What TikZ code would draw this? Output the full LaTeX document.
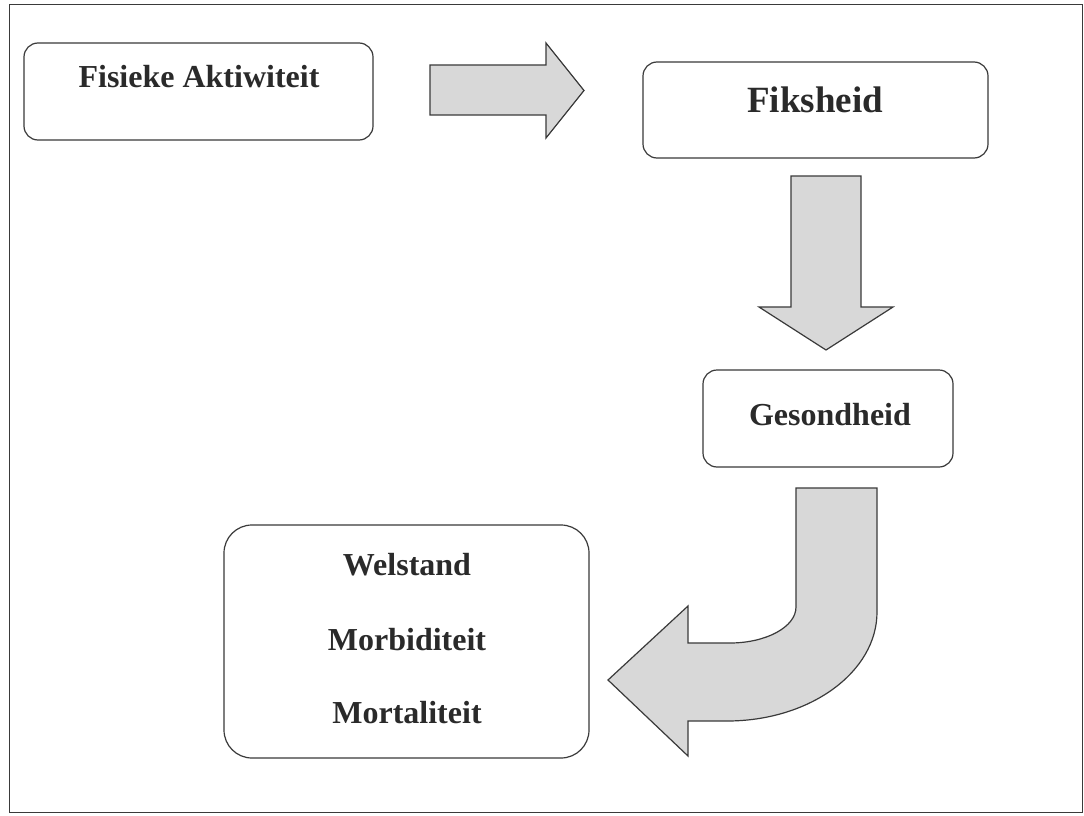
\documentclass[tikz,border=0pt]{standalone}
\usepackage{fontspec}
\setmainfont{Liberation Serif}
\definecolor{linegray}{HTML}{3A3A3A}
\definecolor{textgray}{HTML}{2A2A2A}
\definecolor{arrowgray}{HTML}{D8D8D8}
\begin{document}
\begin{tikzpicture}[x=1pt,y=-1pt,
  box/.style={draw=linegray, line width=1.2pt, rounded corners=14pt, fill=white, inner sep=0pt, outer sep=0pt},
  lbl/.style={font=\bfseries\fontsize{32}{38}\selectfont, text=textgray, anchor=base, inner sep=0pt},
  blockarrow/.style={draw=linegray, line width=1.2pt, fill=arrowgray, line join=miter}]
\useasboundingbox[fill=white] (0,0) rectangle (1084,816);
% outer frame
\draw[draw=linegray, line width=1pt] (9,5) rectangle (1082,812);
% boxes
\node[box, minimum width=349pt, minimum height=97pt] (fa) at (198.5,91.5) {};
\node[box, minimum width=345pt, minimum height=96pt] (fk) at (815.5,110) {};
\node[box, minimum width=250pt, minimum height=97pt] (gs) at (828,418.5) {};
\node[box, rounded corners=28pt, minimum width=365pt, minimum height=233pt] (wm) at (406.5,641.5) {};
% labels
\node[lbl] (faT) at (199,87) {Fisieke Aktiwiteit};
\node[lbl, font=\bfseries\fontsize{37}{44}\selectfont] (fkT) at (815,112) {Fiksheid};
\node[lbl] (gsT) at (830,425) {Gesondheid};
\node[lbl] (w1) at (407,575) {Welstand};
\node[lbl] (w2) at (407,650) {Morbiditeit};
\node[lbl] (w3) at (407,723) {Mortaliteit};
% block arrows
\draw[blockarrow] (430,65) -- (546,65) -- (546,43) -- (584,90.5) -- (546,138) -- (546,115) -- (430,115) -- cycle;
\draw[blockarrow] (791,176) -- (861,176) -- (861,307) -- (893,307) -- (826,350) -- (759,307) -- (791,307) -- cycle;
\draw[blockarrow] (796,488) -- (877,488) -- (877,612)
  .. controls (877,672) and (810,721) .. (727,721)
  -- (688,721) -- (688,756) -- (608,680) -- (688,606) -- (688,643) -- (730,643)
  .. controls (766,643) and (796,627) .. (796,607) -- cycle;
\end{tikzpicture}
\end{document}
